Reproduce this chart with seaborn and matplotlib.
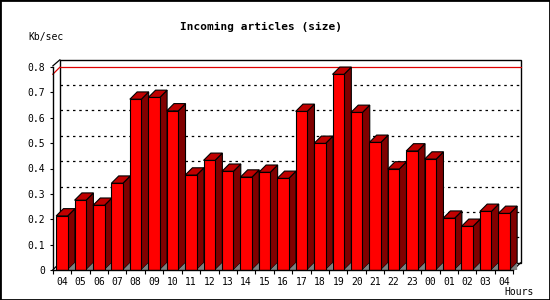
import numpy as np
import pandas as pd
import matplotlib
matplotlib.use("Agg")
import matplotlib.pyplot as plt
from matplotlib.patches import Polygon, Rectangle
import seaborn as sns

hours = ["04", "05", "06", "07", "08", "09", "10", "11", "12", "13", "14", "15", "16",
         "17", "18", "19", "20", "21", "22", "23", "00", "01", "02", "03", "04"]
values = [0.213, 0.275, 0.255, 0.342, 0.673, 0.680, 0.627, 0.374, 0.432, 0.389, 0.366, 0.385,
          0.361, 0.625, 0.499, 0.771, 0.621, 0.503, 0.398, 0.469, 0.437, 0.204, 0.172, 0.231, 0.223]
yticks = [0, 0.1, 0.2, 0.3, 0.4, 0.5, 0.6, 0.7, 0.8]
ytick_labels = ["0", "0.1", "0.2", "0.3", "0.4", "0.5", "0.6", "0.7", "0.8"]
title = "Incoming articles (size)"
ylabel = "Kb/sec"
xlabel = "Hours"

sns.set_theme(style="white")
plt.rcParams["font.family"] = ["DejaVu Sans Mono"]
plt.rcParams["text.color"] = "black"

W, H = 550, 300
fig = plt.figure(figsize=(5.5, 3), dpi=100)
fig.patch.set_facecolor("white")
ax_left, ax_right, ax_bottom, ax_top = 52.7, 513.3, 270, 67
ax = fig.add_axes([ax_left / W, 1 - ax_bottom / H, (ax_right - ax_left) / W, (ax_bottom - ax_top) / H])
ax.set_facecolor("none")

df = pd.DataFrame({"idx": np.arange(len(values)), "val": values})
sns.barplot(data=df, x="idx", y="val", color="#FF0000", saturation=1, width=0.625,
            edgecolor="black", linewidth=0.8, ax=ax, zorder=5)

ax.set_xlim(-0.5, len(values) - 0.5)
ax.set_ylim(0, 0.8)

# depth offsets in data units
d_px = 7.3
dx = d_px * len(values) / (ax_right - ax_left)
dy = d_px * 0.8 / (ax_bottom - ax_top)
x0, x1 = -0.5, len(values) - 0.5

# back plane frame
ax.add_patch(Rectangle((x0 + dx, dy), x1 - x0, 0.8, fill=False, edgecolor="black",
                       linewidth=1.0, clip_on=False, zorder=1))
# gridlines on back plane
for yv in yticks[1:-1]:
    ax.plot([x0 + dx, x1 + dx], [yv + dy, yv + dy], color="black", linestyle=(0, (2, 3)),
            linewidth=0.9, clip_on=False, zorder=1)
# max line (red)
vmax = max(values)
ax.plot([x0 + dx, x1 + dx], [vmax + dy, vmax + dy], color="#DD0000", linewidth=0.9,
        clip_on=False, zorder=1)
ax.plot([x0, x0 + dx], [vmax, vmax + dy], color="#DD0000", linewidth=0.9, clip_on=False, zorder=2)
# connectors
ax.plot([x0, x0 + dx], [0.8 + 0.004, 0.8 + dy], color="black", linewidth=0.9, clip_on=False, zorder=2)
ax.plot([x1, x1 + dx], [0, dy], color="black", linewidth=0.9, clip_on=False, zorder=2)
ax.plot([x0, x0 + dx], [0, dy], color="black", linewidth=0.9, clip_on=False, zorder=2)

# 3D sides and tops
for p in list(ax.patches):
    if not isinstance(p, Rectangle) or p.get_zorder() != 5:
        continue
    x, w, h = p.get_x(), p.get_width(), p.get_height()
    if h <= 0:
        continue
    side = Polygon([(x + w, 0), (x + w + dx, dy), (x + w + dx, h + dy), (x + w, h)],
                   closed=True, facecolor="#800000", edgecolor="black", linewidth=0.8,
                   clip_on=False, zorder=4)
    top = Polygon([(x, h), (x + dx, h + dy), (x + w + dx, h + dy), (x + w, h)],
                  closed=True, facecolor="#C00000", edgecolor="black", linewidth=0.8,
                  clip_on=False, zorder=4)
    floor = Polygon([(x + w, 0), (x + w + dx, dy), (x + w + dx, 0)], closed=True,
                    facecolor="#808080", edgecolor="none", clip_on=False, zorder=4.5)
    ax.add_patch(side)
    ax.add_patch(top)
    ax.add_patch(floor)

# spines
for s in ["top", "right"]:
    ax.spines[s].set_visible(False)
for s in ["left", "bottom"]:
    ax.spines[s].set_color("black")
    ax.spines[s].set_linewidth(1.0)
    ax.spines[s].set_zorder(6)

ax.set_yticks(yticks)
ax.set_yticklabels(ytick_labels)
ax.set_xticks(np.arange(len(hours)))
ax.set_xticklabels(hours)
ax.set_xticks(np.arange(len(hours) + 1) - 0.5, minor=True)
ax.tick_params(axis="x", which="major", length=0, pad=5, labelsize=7, colors="black")
ax.tick_params(axis="x", which="minor", length=3, width=0.8, direction="out", color="black", bottom=True)
ax.tick_params(axis="y", which="major", length=2.5, width=0.8, direction="out", pad=3,
               labelsize=7, colors="black", left=True)
ax.set_xlabel("")
ax.set_ylabel("")

fig.text(261 / W, 1 - 27 / H, title, ha="center", va="center", fontsize=8,
         fontweight="bold", color="black")
fig.text(28 / W, 1 - 37 / H, ylabel, ha="left", va="center", fontsize=7, color="black")
fig.text(534 / W, 1 - 292 / H, xlabel, ha="right", va="center", fontsize=7, color="black")

fig.patches.append(Rectangle((0, 0), 1, 1, transform=fig.transFigure, fill=False,
                             edgecolor="black", linewidth=2, figure=fig))

fig.savefig("out.png", dpi=100)
